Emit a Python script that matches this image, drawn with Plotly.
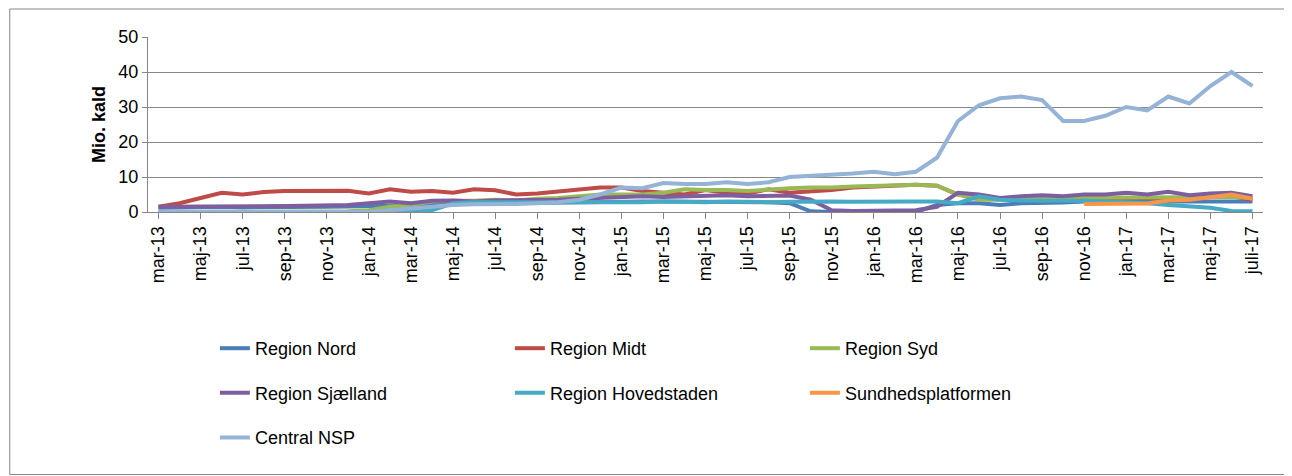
import plotly.graph_objects as go

mdr = ['jan', 'feb', 'mar', 'apr', 'maj', 'jun', 'jul', 'aug', 'sep', 'okt', 'nov', 'dec']
months = []
for i in range(53):
    m = (2 + i) % 12
    y = 13 + (2 + i) // 12
    months.append(f"{mdr[m]}-{y}")
months[-1] = 'juli-17'
tick_labels = months[::2]

nord = [1.2, 1.3, 1.4, 1.4, 1.3, 1.3, 1.4, 1.5, 1.5, 1.6, 1.6, 1.8, 2.0, 2.0, 2.2, 2.4, 2.5, 2.5, 2.6, 2.7, 2.8, 2.8, 2.9, 3.0,
        3.0, 3.0, 3.0, 2.9, 2.9, 2.8, 2.5, 0.2, 0.0, 0.0, 0.0, 0.0, 0.0, 2.0, 2.5, 2.5, 2.0, 2.5, 2.5, 2.7, 3.0, 3.0, 3.0, 3.0,
        3.0, 3.0, 3.0, 3.2, 3.0]
midt = [1.5, 2.5, 4.0, 5.5, 5.0, 5.7, 6.0, 6.1, 6.1, 6.1, 5.3, 6.5, 5.8, 6.0, 5.5, 6.5, 6.2, 5.0, 5.3, 5.8, 6.3, 7.0, 7.0, 6.0,
        5.5, 5.0, 6.3, 5.5, 5.3, 6.5, 5.5, 5.8, 6.3, 7.0, 7.3, 7.5, 7.8, 7.5, 5.0, 4.2, 3.8, 4.0, 4.2, 4.2, 4.0, 4.0, 4.0, 3.8,
        4.0, 4.0, 4.3, 4.5, 3.5]
syd = [0.0, 0.0, 0.0, 0.0, 0.0, 0.0, 0.0, 0.0, 0.0, 0.2, 0.5, 1.5, 2.0, 3.0, 3.2, 3.2, 3.5, 3.3, 3.8, 4.0, 4.5, 5.0, 5.0, 5.0,
        5.5, 6.5, 6.3, 6.3, 6.0, 6.5, 6.8, 7.0, 7.0, 7.3, 7.5, 7.5, 7.8, 7.5, 5.0, 3.5, 3.5, 4.0, 4.0, 4.0, 4.0, 4.0, 4.0, 4.0,
        4.2, 4.2, 4.3, 4.3, 4.0]
sjaelland = [1.5, 1.5, 1.5, 1.5, 1.5, 1.6, 1.7, 1.8, 1.9, 2.0, 2.5, 3.0, 2.5, 3.2, 3.3, 3.0, 3.3, 3.4, 3.3, 3.5, 3.8, 4.0, 4.2, 4.5,
             4.3, 4.5, 4.5, 4.8, 4.5, 4.5, 4.7, 3.5, 0.5, 0.3, 0.3, 0.3, 0.5, 1.5, 5.5, 5.0, 4.0, 4.5, 4.8, 4.5, 5.0, 5.0,
             5.5, 5.0, 5.8, 4.8, 5.3, 5.5, 4.5]
hovedstaden = [0.0, 0.0, 0.0, 0.0, 0.0, 0.0, 0.0, 0.0, 0.0, 0.0, 0.0, 0.0, 0.0, 0.5, 2.5, 2.8, 2.8, 2.7, 2.7, 2.8, 2.8, 2.7, 2.8, 2.8,
               3.0, 2.9, 2.8, 3.0, 2.8, 2.8, 2.9, 3.0, 3.0, 2.9, 3.0, 3.0, 3.0, 3.0, 2.5, 4.5, 3.5, 3.3, 3.3, 3.3, 3.2, 3.0, 2.8, 2.5,
               2.0, 1.5, 1.2, 0.3, 0.2]
sundhed = [None] * 44 + [2.3, 2.4, 2.5, 2.4, 3.3, 3.5, 4.2, 5.0, 3.8]
central = [0.0, 0.0, 0.0, 0.0, 0.0, 0.0, 0.0, 0.0, 0.0, 0.0, 0.0, 0.5, 1.0, 1.5, 2.0, 2.2, 2.2, 2.3, 2.5, 2.8, 3.5, 5.0, 7.0, 6.8,
           8.3, 8.0, 8.0, 8.5, 8.0, 8.5, 10.0, 10.3, 10.8, 11.0, 11.5, 10.8, 11.5, 15.5, 26.0, 30.5, 32.5, 33.0, 32.0, 26.0, 26.0, 27.5,
           30.0, 29.0, 33.0, 31.0, 36.0, 40.0, 36.0]

series = [
    ('Region Nord', nord, '#4a7ebb'),
    ('Region Midt', midt, '#be4b48'),
    ('Region Syd', syd, '#98b954'),
    ('Region Sjælland', sjaelland, '#7d5fa0'),
    ('Region Hovedstaden', hovedstaden, '#46aac5'),
    ('Sundhedsplatformen', sundhed, '#f79646'),
    ('Central NSP', central, '#95b3d7'),
]

fig = go.Figure()
for i, (name, vals, color) in enumerate(series):
    leg = ['legend', 'legend2', 'legend3'][i // 3]
    fig.add_trace(go.Scatter(x=months, y=vals, mode='lines', name=name, legend=leg,
                             line=dict(color=color, width=4)))

def row(y):
    return dict(orientation='h', x=0.06, y=y, xanchor='left', yanchor='middle',
                entrywidth=250, entrywidthmode='pixels', font=dict(size=18),
                itemwidth=30, bgcolor='rgba(0,0,0,0)')

fig.update_layout(
    width=1292, height=476,
    paper_bgcolor='white', plot_bgcolor='white',
    font=dict(family='Liberation Sans, Arial', size=18, color='black'),
    margin=dict(l=140, r=37, t=29, b=272, autoexpand=False),
    showlegend=True,
    legend=row(-0.78), legend2=row(-1.035), legend3=row(-1.29),
    xaxis=dict(type='category', categoryorder='array', categoryarray=months,
               tickmode='array', tickvals=tick_labels, ticktext=tick_labels,
               tickangle=-90, showgrid=False, showline=True, linecolor='#868686',
               ticks='outside', ticklen=6, tickcolor='#868686', range=[-0.5, 52.5]),
    yaxis=dict(range=[0, 50], dtick=10, showgrid=True, gridcolor='#868686',
               showline=True, linecolor='#868686', ticks='outside', tickcolor='#868686',
               title=dict(text='<b>Mio. kald</b>', font=dict(size=18), standoff=8)),
    shapes=[dict(type='rect', xref='paper', yref='paper', x0=-0.124, x1=1.033, y0=-1.5, y1=1.16,
                 line=dict(color='#868686', width=1))],
)

fig.write_html("out.html")
